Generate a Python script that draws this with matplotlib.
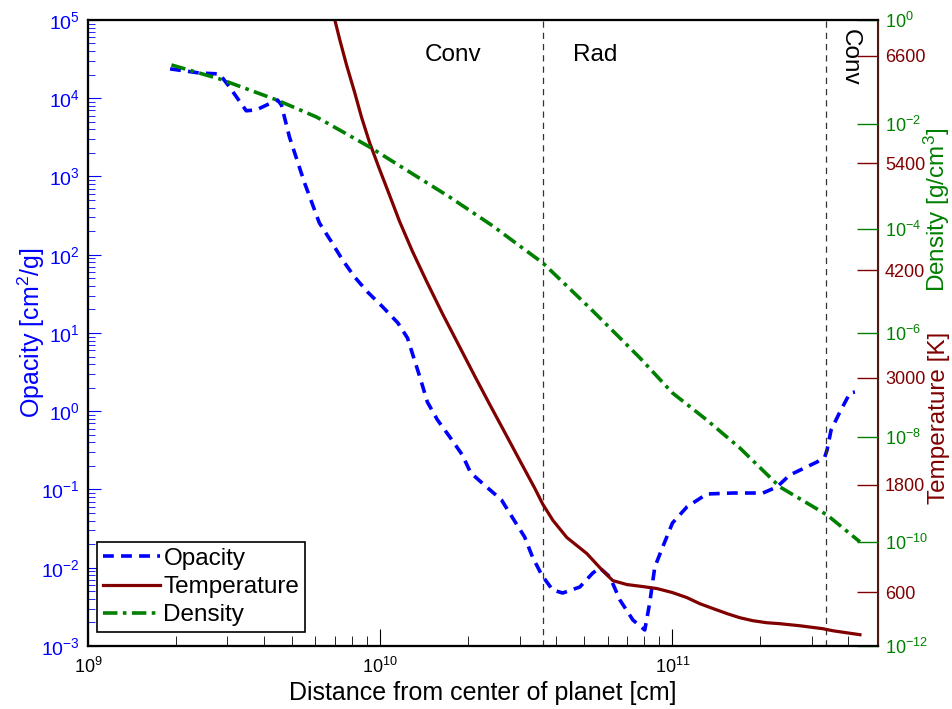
import numpy as np
import matplotlib.pyplot as plt
from matplotlib.ticker import LogLocator, NullFormatter, FixedLocator

plt.rcParams['font.family'] = ['Liberation Sans', 'DejaVu Sans']
plt.rcParams['mathtext.fontset'] = 'custom'
plt.rcParams['mathtext.rm'] = 'Liberation Sans'
plt.rcParams['mathtext.it'] = 'Liberation Sans:italic'

# opacity [cm^2/g] vs distance [cm]
r_kap = [1.91e9, 2.40e9, 2.82e9, 3.05e9, 3.48e9, 3.77e9, 4.45e9, 4.59e9, 4.89e9,
         5.51e9, 6.19e9, 6.81e9, 7.43e9, 8.17e9, 9.05e9, 1.02e10, 1.15e10, 1.24e10,
         1.31e10, 1.37e10, 1.45e10, 1.57e10, 1.73e10, 1.91e10, 2.04e10, 2.31e10,
         2.60e10, 2.84e10, 3.12e10, 3.32e10, 3.57e10, 3.89e10, 4.21e10, 4.82e10,
         5.34e10, 5.64e10, 6.11e10, 6.61e10, 7.32e10, 8.04e10, 8.36e10, 8.70e10,
         9.26e10, 1.00e11, 1.12e11, 1.31e11, 1.61e11, 2.04e11, 2.28e11, 2.52e11,
         3.12e11, 3.32e11, 3.38e11, 3.49e11, 3.74e11, 4.05e11, 4.21e11]
kappa = [2.37e4, 2.10e4, 2.04e4, 1.39e4, 6.9e3, 7.1e3, 9.5e3, 8.2e3, 3.2e3,
         826, 255, 146, 85.7, 52, 33.4, 21.5, 13.4, 8.6,
         4.5, 2.66, 1.31, 0.773, 0.469, 0.276, 0.163, 0.108,
         0.0735, 0.0432, 0.0247, 0.0137, 0.00807, 0.0052, 0.00475, 0.00567,
         0.00857, 0.00993, 0.00762, 0.00387, 0.00215, 0.0016, 0.00355, 0.0102,
         0.0184, 0.0373, 0.0597, 0.0875, 0.0901, 0.090, 0.108, 0.153,
         0.224, 0.26, 0.32, 0.575, 0.977, 1.71, 1.76]

# temperature [K]
r_temp = [6.76e9, 6.98e9, 7.26e9, 7.67e9, 8.17e9, 8.63e9, 9.19e9, 9.95e9, 1.077e10,
          1.165e10, 1.29e10, 1.443e10, 1.634e10, 1.87e10, 2.105e10, 2.366e10,
          2.665e10, 3.0e10, 3.38e10, 3.60e10, 3.90e10, 4.35e10, 5.09e10, 5.64e10,
          5.96e10, 6.25e10, 6.98e10, 7.92e10, 8.85e10, 1.00e11, 1.12e11, 1.24e11,
          1.38e11, 1.54e11, 1.70e11, 1.88e11, 2.10e11, 2.33e11, 2.73e11, 3.27e11,
          3.54e11, 4.38e11]
temp = [7190, 7011, 6787, 6496, 6193, 5913, 5632, 5329, 5038,
        4746, 4410, 4073, 3714, 3344, 3019, 2705,
        2391, 2077, 1763, 1585, 1404, 1213, 1034, 877,
        797, 731, 687, 664, 642, 597, 541, 473,
        417, 361, 316, 283, 260, 249, 226, 193,
        170, 126]

# density [g/cm^3]
r_rho = [1.93e9, 2.82e9, 4.42e9, 6.05e9, 9.19e9, 1.259e10, 1.726e10, 2.43e10, 3.0e10,
         3.6e10, 4.11e10, 5.21e10, 6.61e10, 7.74e10, 1.0e11, 1.31e11, 1.70e11,
         2.33e11, 3.38e11, 4.38e11]
rho = [0.137, 0.074, 0.0293, 0.0138, 0.00368, 1.22e-3, 4.05e-4, 1.12e-4, 4.66e-5,
       2.2e-5, 1.08e-5, 3.02e-6, 8.03e-7, 3.32e-7, 7.08e-8, 2.15e-8, 6.25e-9,
       1.12e-9, 3.25e-10, 9.9e-11]

zone_edges = [3.62e10, 3.34e11]
temp_ticks = [600, 1800, 3000, 4200, 5400, 6600]
rho_ticks = [1e0, 1e-2, 1e-4, 1e-6, 1e-8, 1e-10, 1e-12]

c_kap = '#0000ff'
c_temp = '#800000'
c_rho = '#008000'

fig = plt.figure(figsize=(9.53, 7.09), dpi=100)
ax = fig.add_axes([0.0923, 0.0889, 0.829, 0.883])
ax_t = ax.twinx()
ax_d = ax.twinx()

l1, = ax.plot(r_kap, kappa, color=c_kap, lw=2.6, ls=(0, (3, 2)), label='Opacity',
              dash_joinstyle='round')
l2, = ax_t.plot(r_temp, temp, color=c_temp, lw=2.3, label='Temperature',
                solid_joinstyle='round')
l3, = ax_d.plot(r_rho, rho, color=c_rho, lw=2.6, ls=(0, (4, 1.5, 1, 1.5)),
                label='Density', dash_joinstyle='round')

for xv in zone_edges:
    ax.axvline(xv, color='#333333', lw=0.9, ls=(0, (5, 4)))

ax.set_xscale('log')
ax.set_yscale('log')
ax.set_xlim(1e9, 5.05e11)
ax.set_ylim(1e-3, 1e5)
ax.yaxis.set_major_locator(LogLocator(base=10, numticks=20))
ax.yaxis.set_minor_locator(LogLocator(base=10, subs=np.arange(2, 10), numticks=20))
ax.yaxis.set_minor_formatter(NullFormatter())
ax.tick_params(axis='y', which='both', direction='in', colors=c_kap, labelsize=14, pad=6)
ax.tick_params(axis='y', which='major', length=9)
ax.tick_params(axis='y', which='minor', length=5)
ax.tick_params(axis='x', which='both', direction='in', labelsize=13, pad=8)
ax.tick_params(axis='x', which='major', length=12)
ax.tick_params(axis='x', which='minor', length=7)
ax.set_ylabel('Opacity [cm$^2$/g]', color=c_kap, fontsize=18)
ax.yaxis.set_label_coords(-0.052, 0.5)
ax.set_xlabel('Distance from center of planet [cm]', fontsize=18, labelpad=3)

ax_t.set_ylim(0, 7000)
ax_t.yaxis.set_major_locator(FixedLocator(temp_ticks))
ax_t.tick_params(axis='y', direction='in', length=15, width=1, colors=c_temp,
                 labelsize=13, pad=5)
ax_t.spines['right'].set_color('#4a1a14')
ax_t.spines['right'].set_linewidth(1.5)

ax_d.set_yscale('log')
ax_d.set_ylim(1e-12, 1)
ax_d.yaxis.set_major_locator(FixedLocator(rho_ticks))
ax_d.yaxis.set_minor_locator(FixedLocator([]))
ax_d.tick_params(axis='y', direction='in', length=15, width=1, colors=c_rho,
                 labelsize=13, pad=5)
ax_d.spines['right'].set_visible(False)

for a in (ax, ax_t, ax_d):
    for s in ('left', 'bottom', 'top'):
        a.spines[s].set_linewidth(1.5)

ax.text(1.78e10, 0.944, 'Conv', transform=ax.get_xaxis_transform(),
        ha='center', va='center', fontsize=17.5)
ax.text(5.46e10, 0.944, 'Rad', transform=ax.get_xaxis_transform(),
        ha='center', va='center', fontsize=17.5)
ax.text(4.05e11, 0.94, 'Conv', transform=ax.get_xaxis_transform(),
        ha='center', va='center', fontsize=17.5, rotation=-90)

fig.text(0.983, 0.704, 'Density [g/cm$^3$]', color=c_rho, fontsize=17.5,
         rotation=90, ha='center', va='center')
fig.text(0.985, 0.41, 'Temperature [K]', color=c_temp, fontsize=17.5,
         rotation=90, ha='center', va='center')

leg = ax_d.legend(handles=[l1, l2, l3], loc='lower left',
                  bbox_to_anchor=(0.011, 0.022), borderaxespad=0,
                  fontsize=17.5, fancybox=False, edgecolor='black', framealpha=1,
                  handlelength=2.35, handletextpad=0.15, labelspacing=0.25,
                  borderpad=0.25)
leg.get_frame().set_linewidth(1.2)

fig.savefig('out.png', dpi=100)
